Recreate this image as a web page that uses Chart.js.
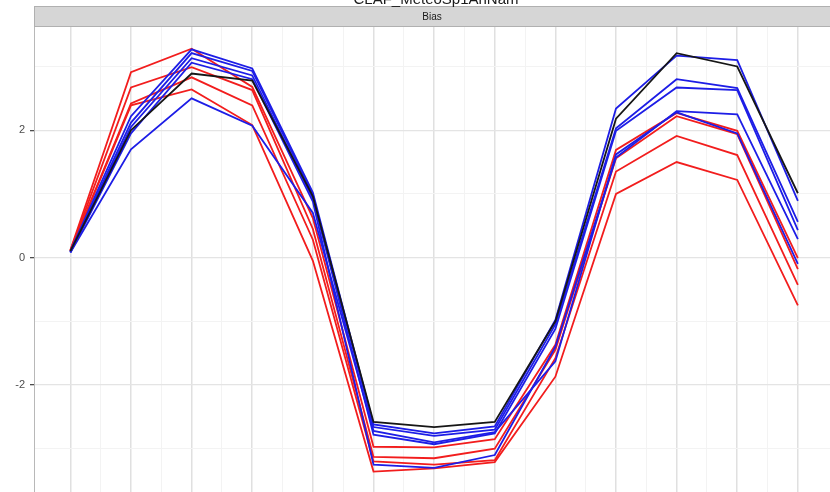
<!DOCTYPE html>
<html>
<head>
<meta charset="utf-8">
<script src="https://cdn.jsdelivr.net/npm/chart.js@4/dist/chart.umd.min.js"></script>
<style>
  html, body { margin: 0; padding: 0; background: #fff; }
  #wrap { width: 830px; height: 492px; }
</style>
</head>
<body>
<div id="wrap"><canvas id="bias-chart"></canvas></div>
<script>
// x positions (13 time steps)
const steps = [0, 1, 2, 3, 4, 5, 6, 7, 8, 9, 10, 11, 12];
const yTicks = [-2, 0, 2];

// observed series (black)
const observed = [0.10, 2.00, 2.89, 2.78, 0.96, -2.58, -2.66, -2.58, -1.00, 2.18, 3.21, 3.00, 1.01];

// blue members
const blue1 = [0.10, 2.22, 3.27, 2.97, 1.02, -2.62, -2.76, -2.65, -0.98, 2.34, 3.17, 3.10, 0.89];
const blue2 = [0.09, 2.12, 3.21, 2.93, 0.98, -2.66, -2.80, -2.70, -1.05, 2.03, 2.80, 2.66, 0.56];
const blue3 = [0.09, 2.05, 3.13, 2.86, 0.93, -2.78, -2.93, -2.76, -1.12, 1.99, 2.67, 2.63, 0.43];
const blue4 = [0.08, 1.95, 3.06, 2.80, 0.88, -3.25, -3.30, -3.10, -1.40, 1.57, 2.30, 2.25, 0.29];
const blue5 = [0.08, 1.70, 2.50, 2.07, 0.70, -2.72, -2.90, -2.74, -1.63, 1.62, 2.28, 1.95, -0.10];

// red members
const red1 = [0.12, 2.91, 3.28, 2.68, 0.62, -2.97, -2.98, -2.85, -1.37, 1.69, 2.27, 1.99, -0.01];
const red2 = [0.11, 2.67, 2.99, 2.63, 0.45, -3.13, -3.15, -3.00, -1.45, 1.56, 2.22, 1.94, -0.18];
const red3 = [0.11, 2.42, 2.83, 2.39, 0.28, -3.20, -3.25, -3.18, -1.58, 1.35, 1.91, 1.61, -0.43];
const red4 = [0.10, 2.39, 2.64, 2.08, -0.05, -3.36, -3.31, -3.21, -1.87, 1.00, 1.50, 1.22, -0.75];

function toPoints(values) {
    return values.map((v, i) => ({ x: steps[i], y: v }));
}

function lineSet(values, color, order) {
    return {
        data: toPoints(values),
        borderColor: color,
        borderWidth: 1.8,
        pointRadius: 0,
        tension: 0,
        fill: false,
        order: order
    };
}

const RED = '#f21d1d';
const BLUE = '#1d1de6';
const BLACK = '#161616';

/**
 * Draws the cut-off title and the grey facet strip above the panel
 */
const stripPlugin = {
    id: 'strip',
    afterDraw(chart) {
        const ctx = chart.ctx;
        const area = chart.chartArea;
        ctx.save();
        ctx.fillStyle = '#d6d6d6';
        ctx.fillRect(area.left, 6, chart.width - area.left, area.top - 6);
        ctx.strokeStyle = '#b0b0b0';
        ctx.lineWidth = 1;
        ctx.strokeRect(area.left + 0.5, 6.5, chart.width - area.left, area.top - 7);
        ctx.fillStyle = '#1a1a1a';
        ctx.font = '10px "Liberation Sans", Arial, sans-serif';
        ctx.textAlign = 'center';
        ctx.textBaseline = 'middle';
        ctx.fillText('Bias', (area.left + chart.width) / 2, 17);
        ctx.font = '15px "Liberation Sans", Arial, sans-serif';
        ctx.textBaseline = 'alphabetic';
        ctx.fillText('CLAF_MeteoSp1AnNam', 436, 4);
        ctx.restore();
    }
};

new Chart(document.getElementById('bias-chart'), {
    type: 'line',
    data: {
        datasets: [
            lineSet(red4, RED, 5),
            lineSet(red3, RED, 5),
            lineSet(red2, RED, 5),
            lineSet(red1, RED, 5),
            lineSet(blue5, BLUE, 3),
            lineSet(blue4, BLUE, 3),
            lineSet(blue3, BLUE, 3),
            lineSet(blue2, BLUE, 3),
            lineSet(blue1, BLUE, 3),
            lineSet(observed, BLACK, 1)
        ]
    },
    options: {
        responsive: true,
        maintainAspectRatio: false,
        animation: false,
        layout: { padding: { top: 27, right: 0, bottom: 0, left: 0 } },
        plugins: {
            legend: { display: false },
            tooltip: { enabled: false }
        },
        scales: {
            x: {
                type: 'linear',
                min: -0.6,
                max: 12.53,
                afterBuildTicks: s => { s.ticks = s.ticks.filter(t => Number.isInteger(t.value * 2)); },
                afterFit: s => { s.height = 0; s.paddingLeft = 0; s.paddingRight = 0; },
                ticks: { display: false, stepSize: 0.5 },
                border: { display: false },
                grid: {
                    drawTicks: false,
                    lineWidth: ctx => Number.isInteger(ctx.tick.value) ? 1.5 : 1,
                    color: ctx => Number.isInteger(ctx.tick.value) ? '#e0e0e0' : '#f3f3f3'
                }
            },
            y: {
                min: -3.68,
                max: 3.62,
                afterBuildTicks: s => { s.ticks = s.ticks.filter(t => Number.isInteger(t.value)); },
                afterFit: s => { s.width = 34; s.paddingTop = 0; s.paddingBottom = 0; },
                ticks: {
                    stepSize: 1,
                    padding: 5,
                    color: '#4d4d4d',
                    font: { family: '"Liberation Sans", Arial, sans-serif', size: 11 },
                    callback: v => yTicks.includes(v) ? String(v) : ''
                },
                border: { display: true, color: '#b8b8b8', width: 1 },
                grid: {
                    tickLength: 4,
                    tickColor: ctx => yTicks.includes(ctx.tick.value) ? '#4d4d4d' : 'rgba(0,0,0,0)',
                    lineWidth: ctx => yTicks.includes(ctx.tick.value) ? 1.3 : 1,
                    color: ctx => yTicks.includes(ctx.tick.value) ? '#e4e4e4' : '#f3f3f3'
                }
            }
        }
    },
    plugins: [stripPlugin]
});
</script>
</body>
</html>
